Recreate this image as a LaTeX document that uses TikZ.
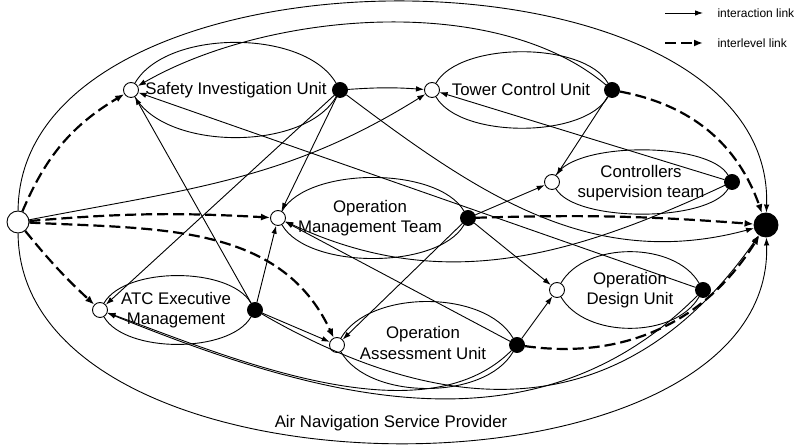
\documentclass[tikz,border=0pt]{standalone}
\usepackage{fontspec}
\setmainfont{Liberation Sans}
\usetikzlibrary{arrows.meta}

\tikzset{
  port/.style={circle, draw, line width=0.9pt, inner sep=0pt, minimum size=15pt},
  inport/.style={port, fill=white},
  outport/.style={port, fill=black},
  unitname/.style={align=center, font=\fontsize{16.8}{20}\selectfont},
  legendtext/.style={anchor=west, font=\fontsize{12}{14}\selectfont},
  rim/.style={line width=0.9pt},
  link/.style={line width=0.9pt, -{Latex[length=8pt,width=5.5pt]}},
  levellink/.style={line width=2.2pt, dash pattern=on 11pt off 5pt, -{Latex[length=9pt,width=7pt]}},
}

\begin{document}
\begin{tikzpicture}[x=1pt,y=1pt]
    \useasboundingbox (0,0) rectangle (795,446);
    % ports of the provider
    \node[inport, minimum size=22pt] (anspIn) at (18,224) {};
    \node[outport, minimum size=24pt] (anspOut) at (766,221) {};
    \node[unitname] (ansp) at (391,23) {Air Navigation Service Provider};
    % units
    \node[inport] (siuIn) at (131,356) {};
    \node[outport] (siuOut) at (340,356) {};
    \node[unitname] (siu) at (236,356) {Safety Investigation Unit};
    \node[inport] (tcuIn) at (432,356) {};
    \node[outport] (tcuOut) at (612,356) {};
    \node[unitname] (tcu) at (521,356) {Tower Control Unit};
    \node[inport] (cstIn) at (552,264) {};
    \node[outport] (cstOut) at (732,264) {};
    \node[unitname] (cst) at (641,263) {Controllers\\supervision team};
    \node[inport] (omtIn) at (278,228) {};
    \node[outport] (omtOut) at (468,228) {};
    \node[unitname] (omt) at (370,228) {Operation\\Management Team};
    \node[inport] (oduIn) at (557,156) {};
    \node[outport] (oduOut) at (703,156) {};
    \node[unitname] (odu) at (630,156) {Operation\\Design Unit};
    \node[inport] (aemIn) at (100,136) {};
    \node[outport] (aemOut) at (255,136) {};
    \node[unitname] (aem) at (176,136) {ATC Executive\\Management};
    \node[inport] (oauIn) at (337,101) {};
    \node[outport] (oauOut) at (517,101) {};
    \node[unitname] (oau) at (423,103) {Operation\\Assessment Unit};
    % outlines
    \draw[link] (anspIn) .. controls (20,514) and (775,514) .. (anspOut);
    \draw[link] (anspIn) .. controls (20,-66) and (775,-66) .. (anspOut);
    \draw[rim] (siuIn) to[out=60,in=120,looseness=0.8] (siuOut);
    \draw[rim] (siuIn) to[out=-60,in=-120,looseness=0.8] (siuOut);
    \draw[rim] (tcuIn) to[out=60,in=120,looseness=0.72] (tcuOut);
    \draw[rim] (tcuIn) to[out=-60,in=-120,looseness=0.72] (tcuOut);
    \draw[rim] (cstIn) to[out=60,in=120,looseness=0.58] (cstOut);
    \draw[rim] (cstIn) to[out=-60,in=-120,looseness=0.58] (cstOut);
    \draw[rim] (omtIn) to[out=60,in=120,looseness=0.73] (omtOut);
    \draw[rim] (omtIn) to[out=-60,in=-120,looseness=0.73] (omtOut);
    \draw[rim] (oduIn) to[out=60,in=120,looseness=0.9] (oduOut);
    \draw[rim] (oduIn) to[out=-60,in=-120,looseness=0.9] (oduOut);
    \draw[rim] (aemIn) to[out=60,in=120,looseness=0.74] (aemOut);
    \draw[rim] (aemIn) to[out=-60,in=-120,looseness=0.74] (aemOut);
    \draw[rim] (oauIn) to[out=60,in=120,looseness=0.84] (oauOut);
    \draw[rim] (oauIn) to[out=-60,in=-120,looseness=0.84] (oauOut);
    % interlevel links
    \draw[levellink] (anspIn) to[bend left=18] (siuIn);
    \draw[levellink] (anspIn) to[bend left=4] (omtIn);
    \draw[levellink] (anspIn) to[out=-3,in=115] (oauIn);
    \draw[levellink] (anspIn) to[bend right=4] (aemIn);
    \draw[levellink] (tcuOut) to[bend left=30] (anspOut);
    \draw[levellink] (omtOut) to[bend left=3] (anspOut);
    \draw[levellink] (oauOut) to[out=-8,in=238] (anspOut);
    % interaction links
    \draw[link] (anspIn) to[out=11,in=212] (tcuIn);
    \draw[link] (siuOut) to[bend left=4] (tcuIn);
    \draw[link] (siuOut) -- (omtIn);
    \draw[link] (siuOut) -- (aemIn);
    \draw[link] (siuOut) to[out=-37,in=195] (anspOut);
    \draw[link] (tcuOut) to[out=140,in=30,looseness=0.8] (siuIn);
    \draw[link] (tcuOut) -- (cstIn);
    \draw[link] (cstOut) -- (tcuIn);
    \draw[link] (cstOut) to[out=205,in=-25] (omtIn);
    \draw[link] (omtOut) -- (cstIn);
    \draw[link] (omtOut) -- (oduIn);
    \draw[link] (omtOut) -- (oauIn);
    \draw[link] (aemOut) -- (omtIn);
    \draw[link] (aemOut) -- (siuIn);
    \draw[link] (aemOut) -- (oauIn);
    \draw[link] (aemOut) to[out=-30,in=235,looseness=1.15] (anspOut);
    \draw[link] (oauOut) -- (oduIn);
    \draw[link] (oauOut) -- (omtIn);
    \draw[link] (oauOut) to[out=225,in=-20,looseness=0.8] (aemIn);
    \draw[link] (oduOut) to[out=225,in=-22] (aemIn);
    \draw[link] (oduOut) -- (siuIn);
    % legend
    \coordinate (solidA) at (665,433);
    \coordinate (solidB) at (703,433);
    \coordinate (dashA) at (665,403);
    \coordinate (dashB) at (703,403);
    \draw[link] (solidA) -- (solidB);
    \draw[levellink] (dashA) -- (dashB);
    \node[legendtext] (solidText) at (714,433) {interaction link};
    \node[legendtext] (dashText) at (714,403) {interlevel link};
\end{tikzpicture}
\end{document}
